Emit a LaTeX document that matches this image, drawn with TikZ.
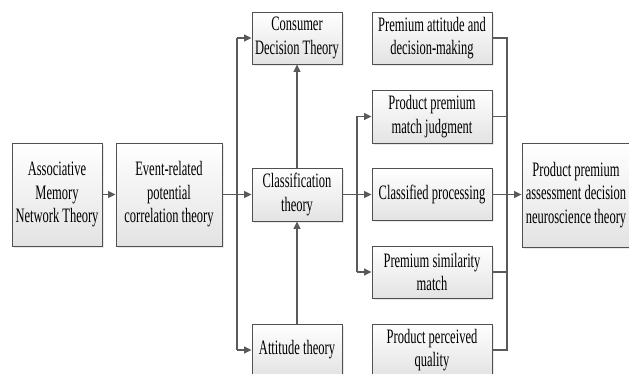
\documentclass[tikz,border=0pt]{standalone}
\usepackage{fontspec}
\setmainfont{Liberation Serif}[FakeStretch=0.61]
\usetikzlibrary{arrows.meta,shadows}
\definecolor{linegray}{HTML}{5A5A5A}
\definecolor{edgegray}{HTML}{505050}
\tikzset{
  box/.style={draw=edgegray, line width=0.9pt, top color=white, bottom color=black!11,
    drop shadow={shadow xshift=1.6pt, shadow yshift=-1.8pt, fill=black!18},
    align=center, inner sep=0pt, font=\fontsize{20.5}{23.5}\selectfont},
  conn/.style={draw=linegray, line width=1.1pt},
  arr/.style={conn, -{Triangle[length=7.5pt,width=7pt]}}
}
\begin{document}
\begin{tikzpicture}[x=1pt,y=-1pt]
\useasboundingbox (0,0) rectangle (629,374);
% left chain
\node[box, minimum width=90, minimum height=103] (A) at (57,194.5) {Associative\\Memory\\Network Theory};
\node[box, minimum width=106, minimum height=103] (B) at (169,194.5) {Event-related\\potential\\correlation theory};
% middle column of theories
\node[box, minimum width=90, minimum height=52] (C) at (297,38) {Consumer\\Decision Theory};
\node[box, minimum width=90, minimum height=53] (D) at (297,194.5) {Classification\\theory};
\node[box, minimum width=90, minimum height=52] (E) at (297,350) {Attitude theory};
% outcomes
\node[box, minimum width=120, minimum height=52] (F) at (432,38) {Premium attitude and\\decision-making};
\node[box, minimum width=120, minimum height=53] (G) at (432,116.5) {Product premium\\match judgment};
\node[box, minimum width=120, minimum height=52] (H) at (432,194.5) {Classified processing};
\node[box, minimum width=120, minimum height=52] (I) at (432,272) {Premium similarity\\match};
\node[box, minimum width=120, minimum height=52] (J) at (432,350) {Product perceived\\quality};
% final theory
\node[box, minimum width=108, minimum height=104] (K) at (576,195) {Product premium\\assessment decision\\neuroscience theory};

% branch and collector lines
\coordinate (lx) at (237,194.5);
\coordinate (mx) at (357,194.5);
\coordinate (rx) at (507,194.5);

\draw[arr] (A) -- (B);
\draw[arr] (B) -- (D);
\draw[conn] (lx |- C.west) -- (lx |- E.west);
\draw[arr] (lx |- C.west) -- (C.west);
\draw[arr] (lx |- E.west) -- (E.west);
\draw[arr] (D) -- (C);
\draw[arr] (E) -- (D);

\draw[arr] (D.east) -- (H.west);
\draw[conn] (mx |- G.west) -- (mx |- I.west);
\draw[arr] (mx |- G.west) -- (G.west);
\draw[arr] (mx |- I.west) -- (I.west);

\draw[conn] (F.east) -- (rx |- F.east) -- (rx |- J.east) -- (J.east);
\draw[conn] (G.east) -- (rx |- G.east);
\draw[conn] (I.east) -- (rx |- I.east);
\draw[arr] (H.east) -- (H.east -| K.west);
\end{tikzpicture}
\end{document}
